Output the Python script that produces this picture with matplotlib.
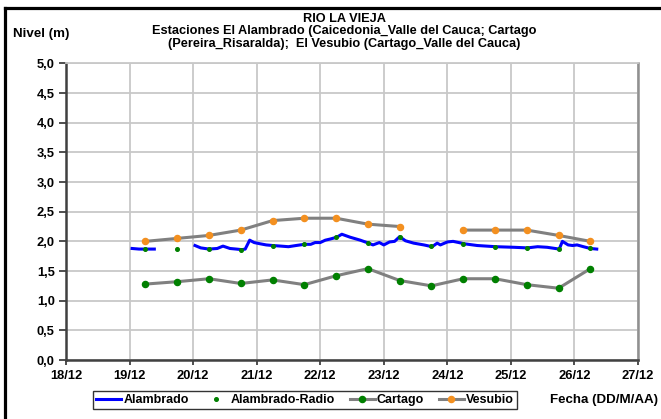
#!/usr/bin/env python3
# -*- coding: utf-8 -*-
# Rio La Vieja - niveles en estaciones El Alambrado, Cartago y El Vesubio

import matplotlib
matplotlib.use("Agg")
import matplotlib.pyplot as plt
from matplotlib.lines import Line2D

plt.rcParams["font.family"] = ["Liberation Sans", "DejaVu Sans"]
plt.rcParams["font.weight"] = "bold"

# -----------------------------------------------------------------------------
# Data (x in day of December, fractional)
# -----------------------------------------------------------------------------

DAY_TICKS = [18, 19, 20, 21, 22, 23, 24, 25, 26, 27]
DAY_LABELS = ["18/12", "19/12", "20/12", "21/12", "22/12",
              "23/12", "24/12", "25/12", "26/12", "27/12"]
Y_TICKS = [0.0, 0.5, 1.0, 1.5, 2.0, 2.5, 3.0, 3.5, 4.0, 4.5, 5.0]

# Alambrado (continuous sensor), two segments
alam_x1 = [19.04, 19.15, 19.25, 19.39]
alam_y1 = [1.88, 1.87, 1.87, 1.87]
alam_x2 = [20.03, 20.12, 20.25, 20.38, 20.47, 20.58, 20.68, 20.77, 20.82,
           20.89, 20.96, 21.05, 21.15, 21.25, 21.38, 21.5, 21.62, 21.75,
           21.85, 21.92, 22.0, 22.08, 22.16, 22.26, 22.34, 22.47, 22.63,
           22.76, 22.83, 22.93, 23.0, 23.09, 23.17, 23.25, 23.34, 23.47,
           23.63, 23.76, 23.84, 23.89, 24.0, 24.09, 24.18, 24.26, 24.47,
           24.76, 25.05, 25.26, 25.42, 25.57, 25.76, 25.81, 25.9, 25.97,
           26.04, 26.14, 26.25, 26.35]
alam_y2 = [1.93, 1.89, 1.87, 1.88, 1.92, 1.88, 1.87, 1.86, 1.87,
           2.02, 1.98, 1.96, 1.94, 1.93, 1.92, 1.91, 1.93, 1.95,
           1.95, 1.98, 1.98, 2.02, 2.04, 2.07, 2.12, 2.07, 2.02,
           1.97, 1.94, 1.98, 1.94, 1.99, 2.0, 2.08, 2.01, 1.97,
           1.94, 1.91, 1.97, 1.94, 1.99, 2.0, 1.98, 1.96, 1.93,
           1.91, 1.90, 1.89, 1.91, 1.90, 1.87, 2.0, 1.94, 1.93,
           1.94, 1.91, 1.88, 1.87]

# Twice daily readings (06:00 and 18:00)
read_x = [19.25, 19.75, 20.25, 20.75, 21.25, 21.75, 22.25, 22.75,
          23.25, 23.75, 24.25, 24.75, 25.25, 25.75, 26.25]
radio_y = [1.87, 1.87, 1.87, 1.855, 1.93, 1.95, 2.07, 1.97,
           2.07, 1.92, 1.96, 1.90, 1.88, 1.87, 1.88]
cartago_y = [1.28, 1.32, 1.37, 1.29, 1.35, 1.27, 1.42, 1.54,
             1.34, 1.25, 1.37, 1.37, 1.27, 1.21, 1.54]
vesubio_y = [2.00, 2.05, 2.10, 2.19, 2.35, 2.39, 2.39, 2.29,
             2.25, None, 2.19, 2.19, 2.19, 2.10, 2.00]

BLUE = "#0000ff"
GREEN = "#008000"
GRAY = "#808080"
ORANGE = "#f39020"


def split_gaps(xs, ys):
    # break a series into runs where values exist
    runs, cx, cy = [], [], []
    for x, y in zip(xs, ys):
        if y is None:
            if cx:
                runs.append((cx, cy))
            cx, cy = [], []
        else:
            cx.append(x)
            cy.append(y)
    if cx:
        runs.append((cx, cy))
    return runs


def main() -> None:
    fig = plt.figure(figsize=(6.61, 4.19), dpi=100)
    ax = fig.add_axes([0.0998, 0.1408, 0.8655, 0.7079])

    # outer frame of the chart (right and bottom edges are cut off)
    fig.add_artist(Line2D([0.0083, 0.0083], [-0.01, 0.982],
                          transform=fig.transFigure, color="black",
                          linewidth=2.3, solid_capstyle="projecting"))
    fig.add_artist(Line2D([0.0083, 1.01], [0.982, 0.982],
                          transform=fig.transFigure, color="black",
                          linewidth=2.3, solid_capstyle="projecting"))

    ax.grid(True, color="#c8c8c8", linewidth=1.3)
    ax.set_axisbelow(True)

    h1, = ax.plot(alam_x1, alam_y1, color=BLUE, linewidth=2.2,
                  label="Alambrado", zorder=3)
    ax.plot(alam_x2, alam_y2, color=BLUE, linewidth=2.2, zorder=3)
    h2, = ax.plot(read_x, radio_y, linestyle="none", marker="o",
                  markersize=2.6, color=GREEN, label="Alambrado-Radio",
                  zorder=4)
    h3, = ax.plot(read_x, cartago_y, color=GRAY, linewidth=2.2,
                  marker="o", markersize=4.4, markerfacecolor=GREEN,
                  markeredgecolor=GREEN, label="Cartago", zorder=3)
    h4 = None
    for rx, ry in split_gaps(read_x, vesubio_y):
        h, = ax.plot(rx, ry, color=GRAY, linewidth=2.2, marker="o",
                     markersize=4.4, markerfacecolor=ORANGE,
                     markeredgecolor=ORANGE, label="Vesubio", zorder=3)
        h4 = h4 or h

    ax.set_xlim(DAY_TICKS[0], DAY_TICKS[-1])
    ax.set_ylim(0, 5)
    ax.set_xticks(DAY_TICKS)
    ax.set_xticklabels(DAY_LABELS)
    ax.set_yticks(Y_TICKS)
    ax.set_yticklabels([f"{v:.1f}".replace(".", ",") for v in Y_TICKS])
    ax.tick_params(axis="x", labelsize=9.3, length=3.5, width=1.3,
                   color="#404040", pad=4)
    ax.tick_params(axis="y", labelsize=9.3, length=5, width=1.3,
                   color="#404040", pad=3)
    for lab in ax.get_xticklabels() + ax.get_yticklabels():
        lab.set_fontweight("bold")

    ax.spines["left"].set_color("#404040")
    ax.spines["left"].set_linewidth(1.8)
    ax.spines["bottom"].set_color("#404040")
    ax.spines["bottom"].set_linewidth(1.8)
    ax.spines["right"].set_color("#909090")
    ax.spines["right"].set_linewidth(1.8)
    ax.spines["top"].set_color("#c8c8c8")
    ax.spines["top"].set_linewidth(1.3)

    fig.text(0.521, 0.955, "RIO LA VIEJA", ha="center", va="center",
             fontsize=9.2, fontweight="bold")
    fig.text(0.521, 0.925,
             "Estaciones El Alambrado (Caicedonia_Valle del Cauca; Cartago",
             ha="center", va="center", fontsize=9.2, fontweight="bold")
    fig.text(0.521, 0.895,
             "(Pereira_Risaralda);  El Vesubio (Cartago_Valle del Cauca)",
             ha="center", va="center", fontsize=9.2, fontweight="bold")
    fig.text(0.019, 0.918, "Nivel (m)", ha="left", va="center",
             fontsize=9.6, fontweight="bold")
    fig.text(0.996, 0.045, "Fecha (DD/M/AA)", ha="right", va="center",
             fontsize=9.6, fontweight="bold")

    leg = fig.legend([h1, h2, h3, h4],
                     ["Alambrado", "Alambrado-Radio", "Cartago", "Vesubio"],
                     loc="center", bbox_to_anchor=(0.4615, 0.045), ncol=4,
                     frameon=True, fancybox=False,
                     edgecolor="black", handlelength=2.0,
                     handletextpad=0.15, columnspacing=1.2,
                     borderpad=0.25, prop={"weight": "bold", "size": 9})
    leg.get_frame().set_linewidth(1.0)

    fig.savefig("out.png", dpi=100)


if __name__ == "__main__":
    main()
